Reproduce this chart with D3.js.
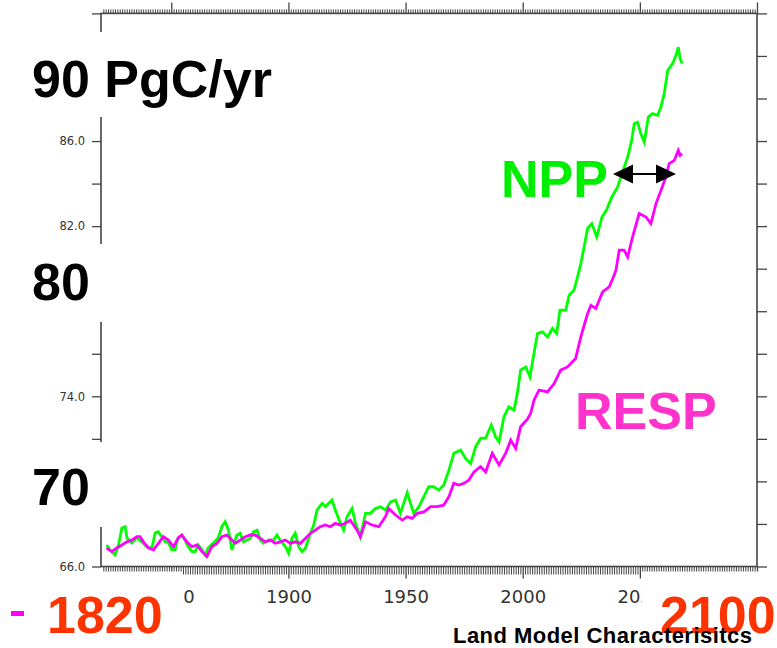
<!DOCTYPE html>
<html>
<head>
<meta charset="utf-8">
<script src="https://cdn.jsdelivr.net/npm/d3@7"></script>
<style>
  html, body { margin: 0; padding: 0; background: #ffffff; }
  svg { display: block; }
</style>
</head>
<body>
<script>
// ---------------- data ----------------
const nppYears = [1822.4,1823.8,1826.0,1827.3,1828.9,1830.3,1831.1,1833.1,1835.3,1837.4,
1839.5,1841.7,1843.1,1844.4,1846.0,1847.4,1848.6,1850.2,1851.6,1852.9,
1854.5,1855.9,1857.2,1858.8,1860.2,1861.5,1863.1,1864.5,1865.7,1867.9,
1870.0,1871.6,1873.0,1874.4,1875.9,1878.0,1879.4,1880.8,1882.3,1883.7,
1885.1,1886.6,1888.0,1889.4,1891.5,1893.7,1895.1,1896.5,1898.7,1900.1,
1901.5,1902.9,1904.4,1905.8,1907.2,1909.4,1910.8,1912.2,1914.4,1915.8,
1917.2,1918.6,1920.0,1922.2,1923.6,1925.0,1927.2,1928.6,1930.7,1932.9,
1935.0,1937.1,1939.3,1941.4,1943.6,1945.7,1947.8,1949.2,1950.7,1952.1,
1953.5,1955.7,1957.8,1959.9,1962.1,1964.2,1966.3,1968.5,1970.6,1973.5,
1975.6,1977.8,1979.9,1982.0,1984.2,1986.6,1988.4,1989.9,1992.0,1994.1,
1996.3,1997.7,1999.1,2001.3,2003.1,2004.8,2006.3,2008.4,2010.6,2012.7,
2014.5,2015.9,2018.4,2019.8,2021.9,2023.4,2024.8,2026.2,2027.7,2029.5,
2031.6,2033.8,2035.9,2038.0,2040.5,2041.9,2044.8,2046.5,2047.6,2049.0,
2050.4,2051.9,2053.6,2055.4,2057.6,2059.0,2060.4,2061.9,2064.0,2065.4,
2066.4,2067.2,2068.0];
const nppValues = [67.01,66.78,66.54,66.93,67.81,67.87,67.34,67.10,67.34,67.16,
66.93,66.87,67.57,67.63,67.40,67.16,67.16,66.78,66.78,67.34,
67.48,67.24,66.93,66.70,66.70,67.01,66.78,66.54,66.87,67.10,
67.34,67.87,68.10,67.71,66.78,67.48,67.56,67.16,67.24,67.32,
67.63,67.71,67.24,67.09,67.24,67.24,67.48,67.24,66.93,66.62,
67.32,67.56,66.93,66.70,66.85,67.56,67.95,68.65,68.97,68.81,
68.97,69.12,68.65,68.03,67.71,68.34,68.73,68.03,67.40,68.50,
68.50,68.73,68.81,68.65,69.04,69.12,68.50,68.97,69.47,68.97,
68.50,68.81,69.28,69.75,69.75,69.59,69.83,70.53,71.32,71.47,
71.08,70.85,71.63,72.02,72.04,72.65,72.10,71.86,73.04,73.51,
73.35,74.14,75.23,75.38,74.91,76.01,76.95,77.03,76.79,77.19,
76.95,78.05,78.05,78.75,78.99,79.61,80.24,81.02,81.90,82.12,
81.49,82.42,82.79,83.36,83.84,84.31,85.25,86.03,86.82,86.89,
86.35,85.95,87.13,87.29,87.21,87.60,88.23,89.32,89.64,90.03,
90.41,89.87,89.64];

const respYears = [1822.4,1824.6,1826.7,1828.9,1831.0,1833.1,1835.3,1836.7,1838.1,1840.2,
1842.4,1844.5,1846.6,1848.8,1850.9,1853.0,1854.5,1856.6,1858.8,1860.9,
1863.1,1865.2,1867.3,1869.5,1871.6,1873.7,1875.2,1877.3,1879.4,1881.6,
1883.7,1885.8,1888.0,1890.1,1892.3,1894.4,1896.5,1898.7,1900.8,1902.9,
1905.1,1907.2,1909.4,1911.5,1913.6,1915.8,1917.9,1920.0,1922.2,1924.3,
1926.4,1929.3,1930.7,1932.9,1935.7,1938.6,1941.4,1942.8,1945.7,1948.6,
1950.7,1952.8,1955.0,1957.8,1960.7,1963.5,1966.3,1968.5,1970.6,1972.8,
1974.9,1977.0,1979.2,1982.0,1984.2,1987.0,1989.9,1992.7,1994.9,1997.0,
1999.1,2002.0,2003.4,2004.8,2007.0,2010.6,2013.4,2016.2,2019.1,2022.6,
2024.8,2027.7,2029.1,2031.2,2034.1,2036.9,2039.0,2039.8,2041.2,2043.3,
2044.8,2046.9,2049.7,2052.6,2054.7,2056.9,2059.0,2061.1,2062.5,2064.7,
2066.4,2067.2,2068.0];
const respValues = [66.87,66.70,66.87,67.01,67.16,67.24,67.40,67.40,67.16,66.87,
66.78,67.09,67.40,67.24,66.93,67.34,67.48,67.16,66.93,67.01,
66.70,66.46,66.93,67.09,67.40,67.48,67.32,67.09,67.24,67.40,
67.48,67.48,67.32,67.16,67.24,67.09,67.16,67.24,67.09,67.16,
67.09,67.32,67.56,67.71,67.87,67.95,67.87,68.03,67.95,68.03,
68.18,67.71,67.40,68.10,67.95,67.87,68.34,68.73,68.42,68.18,
68.34,68.26,68.50,68.57,68.81,68.81,68.89,69.28,69.91,69.83,
69.91,70.06,70.45,70.69,70.45,71.32,70.77,71.32,71.94,71.55,
72.57,72.93,73.20,73.82,74.29,74.21,74.60,75.23,75.38,75.78,
76.79,77.89,78.28,78.13,78.91,79.14,79.69,79.93,80.87,80.87,
80.55,81.49,82.59,82.43,82.12,83.06,83.68,84.31,84.94,85.09,
85.56,85.33,85.41];

const xDomain = [1820, 2100];
const yDomain = [66, 92];
const xMajorTicks = [1850, 1900, 1950, 2000, 2050, 2100];
const xLabelTicks = [1850, 1900, 1950, 2000, 2050];   // 2100 label hidden by overlay in the original
const yTicks = [66,68,70,72,74,76,78,80,82,84,86,88,90,92];
const yLabelTicks = [66, 74, 82, 86];                   // 70, 78, 90 hidden by overlays
const seriesNames = ["NPP", "RESP"];
const seriesColors = ["#00ff00", "#ff00ff"];
const bigLabels = ["90 PgC/yr", "80", "70"];
const periodLabels = ["1820", "2100"];
const footer = "Land Model Characterisitcs";

// ---------------- chart ----------------
const W = 777, H = 648;
const svg = d3.select("body").append("svg").attr("width", W).attr("height", H);

const x = d3.scaleLinear().domain(xDomain).range([101, 757]);
const y = d3.scaleLinear().domain(yDomain).range([566.5, 13.4]);

const axisColor = "#444";
const labelFont = "'DejaVu Sans', sans-serif";

function styleAxis(g) {
  g.select(".domain").remove();
  g.selectAll(".tick line").attr("stroke", axisColor).attr("stroke-width", 1.3);
  g.selectAll(".tick text").attr("fill", "#333").attr("font-family", labelFont);
}

// minor x ticks (every year)
const minorYears = d3.range(xDomain[0] + 1, xDomain[1]).filter(d => d % 50 !== 0);
svg.append("g").attr("transform", `translate(0,${y(yDomain[0])})`)
  .call(d3.axisBottom(x).tickValues(minorYears).tickSize(8).tickFormat(""))
  .call(styleAxis).selectAll(".tick line").attr("stroke-width", 1);
svg.append("g").attr("transform", `translate(0,${y(yDomain[1])})`)
  .call(d3.axisTop(x).tickValues(minorYears).tickSize(4).tickFormat(""))
  .call(styleAxis).selectAll(".tick line").attr("stroke-width", 1);

// major x ticks
const gxb = svg.append("g").attr("transform", `translate(0,${y(yDomain[0])})`)
  .call(d3.axisBottom(x).tickValues(xMajorTicks).tickSize(12)
    .tickFormat(d => xLabelTicks.includes(d) ? String(d) : ""))
  .call(styleAxis);
gxb.selectAll(".tick text").attr("y", 36.5).attr("dy", null).attr("font-size", 18);
svg.append("g").attr("transform", `translate(0,${y(yDomain[1])})`)
  .call(d3.axisTop(x).tickValues(xMajorTicks).tickSize(11).tickFormat(""))
  .call(styleAxis);

// y axes
svg.append("g").attr("transform", `translate(${x(xDomain[0])},0)`)
  .call(d3.axisLeft(y).tickValues(yTicks).tickSize(9).tickPadding(7)
    .tickFormat(d => yLabelTicks.includes(d) ? d.toFixed(1) : ""))
  .call(styleAxis)
  .selectAll(".tick text").attr("font-size", 11.5);
svg.append("g").attr("transform", `translate(${x(xDomain[1])},0)`)
  .call(d3.axisRight(y).tickValues(yTicks).tickSize(10).tickFormat(""))
  .call(styleAxis);

// frame
svg.append("rect")
  .attr("x", x(xDomain[0])).attr("y", y(yDomain[1]))
  .attr("width", x(xDomain[1]) - x(xDomain[0]))
  .attr("height", y(yDomain[0]) - y(yDomain[1]))
  .attr("fill", "none").attr("stroke", axisColor).attr("stroke-width", 1.6);

// series
const line = d3.line().x(d => x(d[0])).y(d => y(d[1]));
const series = [
  d3.zip(nppYears, nppValues),
  d3.zip(respYears, respValues)
];
series.forEach((s, i) => {
  svg.append("path").datum(s)
    .attr("d", line)
    .attr("fill", "none")
    .attr("stroke", seriesColors[i])
    .attr("stroke-width", 2.8)
    .attr("stroke-linejoin", "miter");
});

// ---------------- overlay annotations ----------------
const boldFont = "'Liberation Sans', Arial, sans-serif";
const ov = svg.append("g");

// white boxes behind overlay texts
const boxes = [
  {x: 20, y: 32, w: 262, h: 85},
  {x: 20, y: 244, w: 90, h: 78},
  {x: 20, y: 442, w: 90, h: 85},
  {x: 30, y: 571.5, w: 152, h: 77},
  {x: 642, y: 571.5, w: 135, h: 77}
];
ov.selectAll("rect.box").data(boxes).enter().append("rect")
  .attr("class", "box")
  .attr("x", d => d.x).attr("y", d => d.y).attr("width", d => d.w).attr("height", d => d.h)
  .attr("fill", "#ffffff");

// big y labels
const bigPos = [[32, 97], [32, 300], [32, 505]];
bigLabels.forEach((t, i) => {
  ov.append("text").attr("x", bigPos[i][0]).attr("y", bigPos[i][1])
    .attr("font-family", boldFont).attr("font-weight", "bold").attr("font-size", 52)
    .attr("fill", "#000").text(t);
});

// magenta dash
ov.append("rect").attr("x", 11).attr("y", 611).attr("width", 13).attr("height", 5).attr("fill", "#ff00ff");

// period labels
const perPos = [[47, 633], [660, 633]];
periodLabels.forEach((t, i) => {
  ov.append("text").attr("x", perPos[i][0]).attr("y", perPos[i][1])
    .attr("font-family", boldFont).attr("font-weight", "bold").attr("font-size", 52)
    .attr("fill", "#ff3300").text(t);
});

// series labels
ov.append("text").attr("x", 501).attr("y", 197)
  .attr("font-family", boldFont).attr("font-weight", "bold").attr("font-size", 52)
  .attr("fill", "#00ee00").text(seriesNames[0]);
ov.append("text").attr("x", 575).attr("y", 429)
  .attr("font-family", boldFont).attr("font-weight", "bold").attr("font-size", 52)
  .attr("fill", "#ff33cc").text(seriesNames[1]);

// double-headed arrow
const ay = 174, ax1 = 613, ax2 = 676, ah = 20, aw = 9.5;
ov.append("line").attr("x1", ax1 + ah - 2).attr("x2", ax2 - ah + 2).attr("y1", ay).attr("y2", ay)
  .attr("stroke", "#000").attr("stroke-width", 2);
ov.append("path").attr("d", `M${ax1},${ay}L${ax1 + ah},${ay - aw}L${ax1 + ah},${ay + aw}Z`).attr("fill", "#000");
ov.append("path").attr("d", `M${ax2},${ay}L${ax2 - ah},${ay - aw}L${ax2 - ah},${ay + aw}Z`).attr("fill", "#000");

// footer
ov.append("text").attr("x", 453).attr("y", 643)
  .attr("font-family", boldFont).attr("font-weight", "bold").attr("font-size", 22)
  .attr("textLength", 299).attr("lengthAdjust", "spacing")
  .attr("fill", "#000").text(footer);
</script>
</body>
</html>
